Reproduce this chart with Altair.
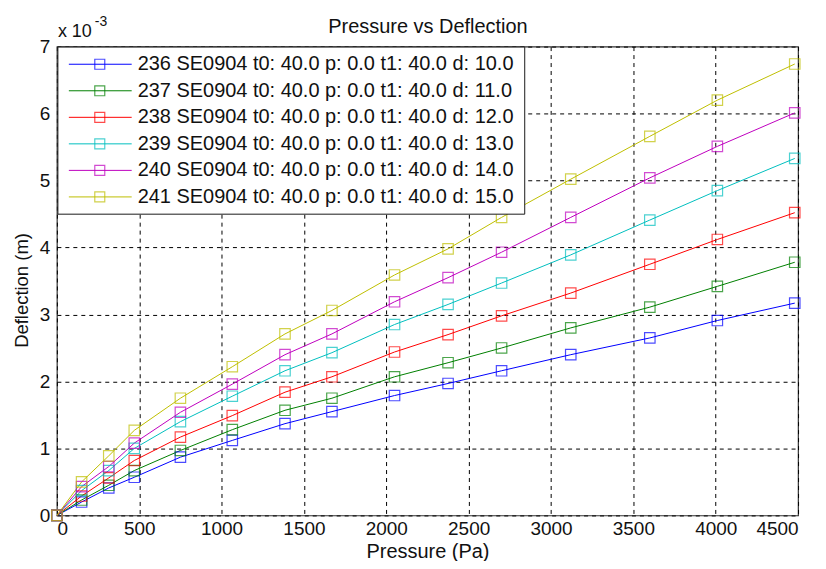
import altair as alt
import pandas as pd

FONT = "Liberation Sans"

# ---- data (deflection in units of 1e-3 m) ----
pressure = [0, 150, 315, 470, 750, 1065, 1385, 1670, 2050, 2375, 2700, 3120, 3600, 4010, 4480]

series_names = [
    "236 SE0904 t0: 40.0 p: 0.0 t1: 40.0 d: 10.0",
    "237 SE0904 t0: 40.0 p: 0.0 t1: 40.0 d: 11.0",
    "238 SE0904 t0: 40.0 p: 0.0 t1: 40.0 d: 12.0",
    "239 SE0904 t0: 40.0 p: 0.0 t1: 40.0 d: 13.0",
    "240 SE0904 t0: 40.0 p: 0.0 t1: 40.0 d: 14.0",
    "241 SE0904 t0: 40.0 p: 0.0 t1: 40.0 d: 15.0",
]

d236 = [0, 0.20, 0.41, 0.57, 0.87, 1.12, 1.37, 1.55, 1.79, 1.97, 2.16, 2.40, 2.65, 2.91, 3.17]
d237 = [0, 0.23, 0.45, 0.67, 0.97, 1.28, 1.57, 1.75, 2.07, 2.28, 2.50, 2.80, 3.11, 3.42, 3.78]
d238 = [0, 0.29, 0.56, 0.82, 1.17, 1.49, 1.84, 2.07, 2.44, 2.70, 2.98, 3.32, 3.75, 4.12, 4.52]
d239 = [0, 0.37, 0.67, 1.00, 1.40, 1.78, 2.16, 2.43, 2.85, 3.15, 3.47, 3.89, 4.41, 4.85, 5.33]
d240 = [0, 0.43, 0.73, 1.08, 1.54, 1.96, 2.40, 2.71, 3.19, 3.55, 3.93, 4.45, 5.04, 5.51, 6.01]
d241 = [0, 0.50, 0.89, 1.27, 1.75, 2.22, 2.71, 3.06, 3.59, 3.98, 4.45, 5.02, 5.66, 6.20, 6.74]

colors = ["#0000ff", "#008000", "#ff0000", "#00bfbf", "#bf00bf", "#bfbf00"]

x_ticks = [0, 500, 1000, 1500, 2000, 2500, 3000, 3500, 4000, 4500]
y_ticks = [0, 1, 2, 3, 4, 5, 6, 7]

title_text = "Pressure vs Deflection"
x_title = "Pressure (Pa)"
y_title = "Deflection (m)"
exp_base = "x 10"
exp_power = "-3"

# ---- tables ----
all_series = [d236, d237, d238, d239, d240, d241]
rows = []
for i, (name, vals) in enumerate(zip(series_names, all_series)):
    for p, v in zip(pressure, vals):
        rows.append({"series": name, "order": i, "pressure": p, "deflection": v})
df = pd.DataFrame(rows)
legend_df = pd.DataFrame({"series": series_names, "row": list(range(len(series_names)))})

color = alt.Color("series:N", scale=alt.Scale(domain=series_names, range=colors), legend=None)

x_enc = alt.X(
    "pressure:Q",
    scale=alt.Scale(domain=[0, 4500], nice=False),
    axis=alt.Axis(values=x_ticks, format="d", title=x_title, labelPadding=4, titleY=36,
                  titleBaseline="middle"),
)
y_enc = alt.Y(
    "deflection:Q",
    scale=alt.Scale(domain=[0, 7], nice=False),
    axis=alt.Axis(values=y_ticks, format="d", title=y_title, labelPadding=7, titleX=-35, titleY=244,
                  titleBaseline="middle", titleFontSize=18.5),
)

lines = alt.Chart(df).mark_line(strokeWidth=1).encode(
    x=x_enc, y=y_enc, color=color, detail="series:N"
)
points = alt.Chart(df).mark_point(shape="square", filled=False, size=110, strokeWidth=1.2).encode(
    x="pressure:Q", y="deflection:Q", color=color
)

# ---- legend (drawn as marks) ----
box = alt.Chart(alt.Data(values=[{"k": 1}])).mark_rect(
    fill="white", stroke="#1a1a1a", strokeWidth=1
).encode(x=alt.value(1), x2=alt.value(469), y=alt.value(0.5), y2=alt.value(168))

leg = alt.Chart(legend_df).transform_calculate(ly="17.7 + 26.6 * datum.row")
ly = alt.Y("ly:Q", scale=None, axis=None)
leg_rule = leg.mark_rule(strokeWidth=1).encode(x=alt.value(12), x2=alt.value(75), y=ly, color=color)
leg_pt = leg.mark_point(shape="square", filled=False, size=100, strokeWidth=1.2).encode(
    x=alt.value(43), y=ly, color=color
)
leg_txt = leg.mark_text(align="left", baseline="middle", font=FONT, fontSize=20, color="#111").encode(
    x=alt.value(81), y=ly, text="series:N"
)

# ---- title and exponent annotation ----
ttl = alt.Chart(alt.Data(values=[{"t": title_text}])).mark_text(
    align="center", baseline="alphabetic", font=FONT, fontSize=20, color="#111"
).encode(x=alt.value(372), y=alt.value(-14), text="t:N")
exp1 = alt.Chart(alt.Data(values=[{"t": exp_base}])).mark_text(
    align="left", baseline="alphabetic", font=FONT, fontSize=18, color="#111"
).encode(x=alt.value(1), y=alt.value(-10), text="t:N")
exp2 = alt.Chart(alt.Data(values=[{"t": exp_power}])).mark_text(
    align="left", baseline="alphabetic", font=FONT, fontSize=14, color="#111"
).encode(x=alt.value(38), y=alt.value(-21), text="t:N")

chart = alt.layer(lines, points, box, leg_rule, leg_pt, leg_txt, ttl, exp1, exp2).properties(
    width=743,
    height=470,
    autosize=alt.AutoSizeParams(type="none"),
    padding={"left": 49, "top": 38, "right": 20, "bottom": 45},
).configure_view(
    stroke="#333333", strokeWidth=1.2
).configure_axis(
    grid=True, gridColor="#000000", gridDash=[4, 4], gridWidth=1, gridOpacity=1,
    domain=False, ticks=False,
    labelFont=FONT, labelFontSize=19, labelColor="#111",
    titleFont=FONT, titleFontSize=20, titleFontWeight="normal", titleColor="#111",
)

chart.save("out.html", embed_options={"renderer": "svg", "actions": False})
